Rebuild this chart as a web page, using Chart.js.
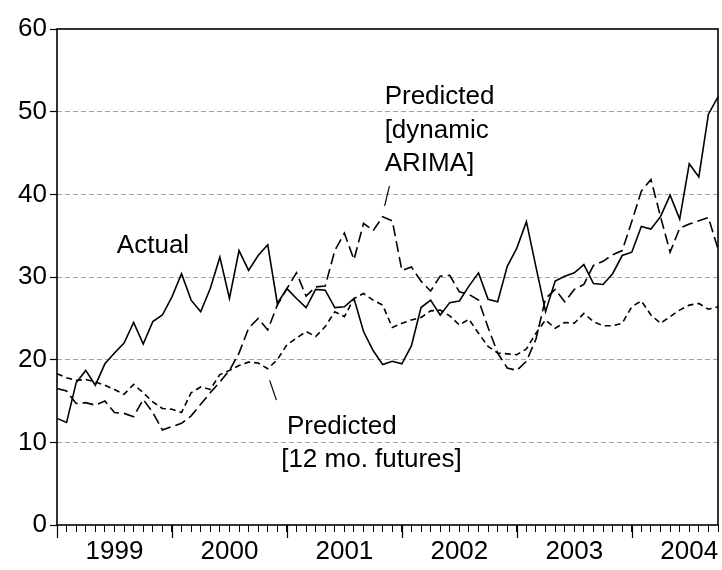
<!DOCTYPE html>
<html>
<head>
<meta charset="utf-8">
<script src="https://cdn.jsdelivr.net/npm/chart.js@4.4.0/dist/chart.umd.min.js"></script>
<style>
  html, body { margin: 0; padding: 0; background: #fff; }
  #wrap { width: 722px; height: 570px; }
</style>
</head>
<body>
<div id="wrap"><canvas id="chart"></canvas></div>
<script>
// monthly observations, 1999M01 .. 2004M10
const years = [1999, 2000, 2001, 2002, 2003, 2004];
const months = [];
years.forEach(y => {
  for (let m = 1; m <= 12; m++) months.push(y + 'M' + String(m).padStart(2, '0'));
});
months.length = 70;

const actual = [
  12.9, 12.4, 17.2, 18.7, 16.9, 19.5, 20.8, 22.0, 24.5, 21.9, 24.6, 25.4,
  27.6, 30.4, 27.2, 25.8, 28.6, 32.4, 27.4, 33.2, 30.8, 32.6, 33.9, 26.8,
  28.6, 27.4, 26.3, 28.5, 28.4, 26.3, 26.4, 27.4, 23.4, 21.1, 19.4, 19.8,
  19.5, 21.7, 26.3, 27.2, 25.4, 26.9, 27.1, 28.9, 30.5, 27.3, 27.0, 31.3,
  33.5, 36.7, 31.2, 25.8, 29.5, 30.1, 30.5, 31.5, 29.2, 29.1, 30.4, 32.6,
  33.0, 36.1, 35.8, 37.3, 39.9, 37.0, 43.7, 42.1, 49.7, 51.8
];
const arima = [
  16.5, 16.2, 14.7, 14.8, 14.5, 15.0, 13.6, 13.5, 13.1, 15.2, 13.6, 11.5,
  11.9, 12.3, 13.2, 14.6, 16.0, 17.3, 18.7, 20.8, 23.8, 25.0, 23.6, 26.6,
  28.6, 30.5, 27.7, 28.8, 28.9, 33.2, 35.3, 32.1, 36.5, 35.6, 37.3, 36.8,
  30.8, 31.2, 29.5, 28.3, 30.1, 30.2, 28.2, 27.9, 27.2, 23.9, 20.8, 19.0,
  18.7, 19.8, 22.5, 27.4, 28.5, 27.0, 28.5, 29.1, 31.4, 31.9, 32.7, 33.2,
  36.7, 40.4, 41.8, 37.3, 33.0, 35.9, 36.4, 36.8, 37.2, 33.4
];
const futures = [
  18.3, 17.8, 17.5, 17.6, 17.3, 16.9, 16.4, 15.8, 17.0, 16.0, 14.9, 14.1,
  14.0, 13.6, 16.0, 16.7, 16.4, 18.2, 18.7, 19.3, 19.7, 19.6, 18.9, 20.0,
  21.8, 22.6, 23.4, 22.8, 24.0, 25.8, 25.2, 27.4, 28.0, 27.2, 26.6, 23.9,
  24.4, 24.8, 25.1, 25.9, 26.0, 25.3, 24.2, 24.9, 23.2, 21.6, 20.8, 20.7,
  20.6, 21.3, 23.2, 24.8, 23.8, 24.5, 24.4, 25.6, 24.6, 24.1, 24.1, 24.4,
  26.4, 27.1, 25.4, 24.4, 25.2, 26.0, 26.6, 26.8, 26.1, 26.4
];
const yTicks = [0, 10, 20, 30, 40, 50, 60];

// text labels placed in data units (month index, value)
const notes = [
  { lines: ['Actual'], at: [6.25, 32.9] },
  { lines: ['Predicted', '[dynamic', 'ARIMA]'], at: [34.2, 50.9] },
  { lines: ['Predicted'], at: [24.0, 11.0] },
  { lines: ['[12 mo. futures]'], at: [23.4, 7.0] }
];
const pointers = [
  [[34.7, 41.0], [34.2, 38.6]],
  [[22.2, 17.5], [22.9, 15.1]]
];

Chart.defaults.font.family = '"Liberation Sans", Arial, sans-serif';
Chart.defaults.font.size = 26;
Chart.defaults.color = '#000';

const decor = {
  id: 'decor',
  afterDatasetsDraw(chart) {
    const { ctx, chartArea: a, scales: { x, y } } = chart;
    ctx.save();
    // frame
    ctx.strokeStyle = '#000';
    ctx.lineWidth = 1.6;
    ctx.strokeRect(a.left, a.top, a.right - a.left, a.bottom - a.top);
    // year ticks
    ctx.lineWidth = 1.2;
    ctx.beginPath();
    months.forEach((m, i) => {
      if (m.endsWith('M01')) {
        const px = Math.round(x.getPixelForValue(i)) + 0.5;
        ctx.moveTo(px, a.bottom);
        ctx.lineTo(px, a.bottom + 13);
      }
    });
    ctx.stroke();
    // pointers
    ctx.lineWidth = 1.2;
    pointers.forEach(p => {
      ctx.beginPath();
      ctx.moveTo(x.getPixelForValue(p[0][0]), y.getPixelForValue(p[0][1]));
      ctx.lineTo(x.getPixelForValue(p[1][0]), y.getPixelForValue(p[1][1]));
      ctx.stroke();
    });
    // labels
    ctx.fillStyle = '#000';
    ctx.font = '26px "Liberation Sans", Arial, sans-serif';
    ctx.textBaseline = 'alphabetic';
    ctx.textAlign = 'left';
    notes.forEach(n => {
      const px = x.getPixelForValue(n.at[0]);
      const py = y.getPixelForValue(n.at[1]);
      n.lines.forEach((t, k) => ctx.fillText(t, px, py + k * 33.5));
    });
    ctx.restore();
  }
};

new Chart(document.getElementById('chart'), {
  type: 'line',
  data: {
    labels: months,
    datasets: [
      { label: 'Actual', data: actual, borderColor: '#000', borderWidth: 1.6, borderDash: [] },
      { label: 'Predicted [dynamic ARIMA]', data: arima, borderColor: '#000', borderWidth: 1.6, borderDash: [11, 5] },
      { label: 'Predicted [12 mo. futures]', data: futures, borderColor: '#000', borderWidth: 1.6, borderDash: [6, 4] }
    ]
  },
  options: {
    responsive: true,
    maintainAspectRatio: false,
    animation: false,
    layout: { padding: { top: 29, right: 3, left: 0, bottom: 0 } },
    elements: { point: { radius: 0 }, line: { tension: 0, fill: false } },
    plugins: { legend: { display: false }, tooltip: { enabled: false } },
    scales: {
      x: {
        type: 'category',
        offset: false,
        border: { display: false },
        grid: { display: true, drawOnChartArea: false, tickLength: 7, tickColor: '#000', tickWidth: 1 },
        ticks: {
          autoSkip: false,
          maxRotation: 0,
          padding: 4,
          callback: function (val) {
            const lab = this.getLabelForValue(val);
            return lab.endsWith('M07') ? lab.slice(0, 4) : '';
          }
        },
        afterFit: s => { s.height = 45; }
      },
      y: {
        min: 0,
        max: 60,
        afterBuildTicks: s => { s.ticks = yTicks.map(v => ({ value: v })); },
        border: { display: false, dash: [5, 3] },
        grid: {
          color: c => (c.tick.value === 0 || c.tick.value === 60) ? 'rgba(0,0,0,0)' : '#a6a6a6',
          lineWidth: 1,
          tickLength: 7,
          tickColor: '#000',
          tickWidth: 1.2,
          tickBorderDash: []
        },
        ticks: { padding: 3 },
        afterFit: s => { s.width = 57; }
      }
    }
  },
  plugins: [decor]
});
</script>
</body>
</html>
